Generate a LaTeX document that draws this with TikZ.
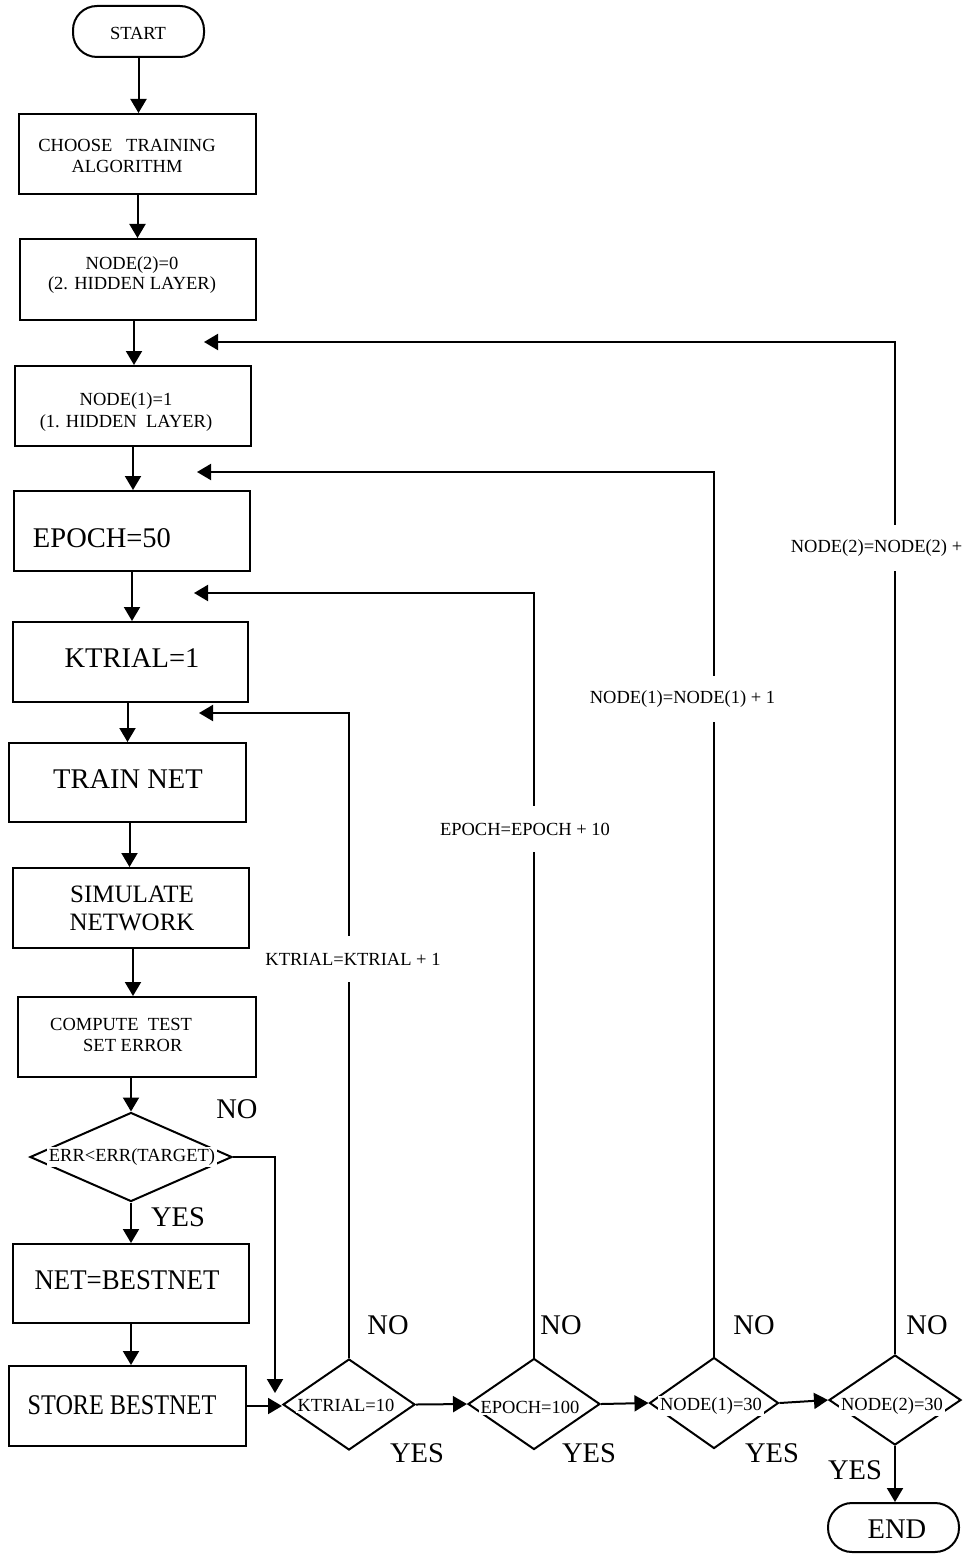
\documentclass[tikz,border=0pt]{standalone}
\usepackage{graphicx}
\usepackage{fontspec}
\setmainfont{Liberation Serif}
\usetikzlibrary{shapes.geometric,arrows.meta,calc}
\begin{document}
\begin{tikzpicture}[x=1pt,y=-1pt,
  box/.style={draw,line width=2pt,rectangle,inner sep=0pt},
  dia/.style={draw,line width=2pt,diamond,inner sep=0pt},
  term/.style={draw,line width=2pt,rectangle,rounded corners=24pt,inner sep=0pt},
  arr/.style={line width=2pt,-{Triangle[length=14pt,width=16pt]}},
  sm/.style={font=\fontsize{18.5}{21.5}\selectfont,inner sep=0pt,align=center},
  lg/.style={font=\fontsize{28.5}{28}\selectfont,inner sep=0pt,align=center},
  dtxt/.style={sm,fill=white,inner sep=2pt},
  lab/.style={sm,fill=white,inner xsep=2pt,minimum height=46pt}]
\useasboundingbox (0,0) rectangle (964,1554);
\fill[white] (0,0) rectangle (964,1554);

% shapes
\node[term,minimum width=131pt,minimum height=51pt] (start) at (138.5,31.5) {};
\node[box,minimum width=237pt,minimum height=80pt] (choose) at (137.5,154) {};
\node[box,minimum width=236pt,minimum height=81pt] (node2) at (138,279.5) {};
\node[box,minimum width=236pt,minimum height=80pt] (node1) at (133,406) {};
\node[box,minimum width=236pt,minimum height=80pt] (epoch) at (132,531) {};
\node[box,minimum width=235pt,minimum height=80pt] (ktrial) at (130.5,662) {};
\node[box,minimum width=237pt,minimum height=79pt] (train) at (127.5,782.5) {};
\node[box,minimum width=236pt,minimum height=80pt] (sim) at (131,908) {};
\node[box,minimum width=238pt,minimum height=80pt] (compute) at (137,1037) {};
\node[dia,minimum width=202pt,minimum height=89pt] (err) at (131,1157) {};
\node[box,minimum width=236pt,minimum height=79pt] (netb) at (131,1283.5) {};
\node[box,minimum width=237pt,minimum height=80pt] (store) at (127.5,1406) {};
\node[dia,minimum width=132pt,minimum height=91pt] (k10) at (349,1404.5) {};
\node[dia,minimum width=132pt,minimum height=91pt] (ep) at (534,1404) {};
\node[dia,minimum width=129pt,minimum height=91pt] (n1) at (714,1403) {};
\node[dia,minimum width=132pt,minimum height=90pt] (n2) at (895,1400) {};
\node[term,minimum width=131pt,minimum height=49pt] (end) at (893.5,1527.5) {};

% return points
\coordinate (kr) at (199,713);
\coordinate (er) at (194,593);
\coordinate (n1r) at (197,472);
\coordinate (n2r) at (204,342);
\coordinate (en) at (275,1393);

% main flow
\draw[arr] (start.south) -- (start.south |- choose.north);
\draw[arr] (choose.south) -- (choose.south |- node2.north);
\draw[arr] ([xshift=-4pt]node2.south) -- ([xshift=-4pt]node2.south |- node1.north);
\draw[arr] (node1.south) -- (node1.south |- epoch.north);
\draw[arr] (epoch.south) -- (epoch.south |- ktrial.north);
\draw[arr] ([xshift=-3pt]ktrial.south) -- ([xshift=-3pt]ktrial.south |- train.north);
\draw[arr] ([xshift=2pt]train.south) -- ([xshift=2pt]train.south |- sim.north);
\draw[arr] ([xshift=2pt]sim.south) -- ([xshift=2pt]sim.south |- compute.north);
\draw[arr] ([xshift=-6pt]compute.south) -- ([xshift=-6pt]compute.south |- err.north);
\draw[arr] (err.south) -- (err.south |- netb.north);
\draw[arr] (netb.south) -- (netb.south |- store.north);
\draw[arr] (err.east) -| (en);
\draw[arr] (store.east) -- (store.east -| k10.west);
\draw[arr] (k10.east) -- (ep.west);
\draw[arr] (ep.east) -- (n1.west);
\draw[arr] (n1.east) -- (n2.west);
\draw[arr] (n2.south) -- (n2.south |- end.north);

% loops
\draw[arr] (k10.north) |- (kr);
\draw[arr] (ep.north) |- (er);
\draw[arr] (n1.north) |- (n1r);
\draw[arr] (n2.north) |- (n2r);

% loop labels
\node[lab] (lk) at (353,959) {KTRIAL=KTRIAL + 1};
\node[lab] (le) at (525,829) {EPOCH=EPOCH + 10};
\node[lab] (ln1) at (682.5,699) {NODE(1)=NODE(1) + 1};
\node[lab] (ln2) at (876.5,548) {NODE(2)=NODE(2) +};

% texts
\node[sm] (tstart) at (138,33.5) {START};
\node[sm] (tchoose) at (127,156) {CHOOSE\ \ \ TRAINING\\ALGORITHM};
\node[sm,font=\fontsize{18.5}{20}\selectfont] (tnode2) at (132,275) {NODE(2)=0\\(2. HIDDEN LAYER)};
\node[sm] (tnode1) at (126,412) {NODE(1)=1\\(1. HIDDEN\ \ LAYER)};
\node[lg] (tepoch) at (102,538) {EPOCH=50};
\node[lg] (tktrial) at (132,658) {KTRIAL=1};
\node[lg] (ttrain) at (128,779) {TRAIN NET};
\node[lg,font=\fontsize{25}{28}\selectfont] (tsim) at (132,908) {SIMULATE\\NETWORK};
\node[sm,align=left,anchor=west] (tcompute) at (50,1035) {COMPUTE\ \ TEST\\\hspace*{33pt}SET ERROR};
\node[dtxt] (terr) at (132,1157) {ERR<ERR(TARGET)};
\node[lg] (tnetb) at (127,1280) {\scalebox{0.94}[1]{NET=BESTNET}};
\node[lg] (tstore) at (122,1405) {\scalebox{0.85}[1]{STORE BESTNET}};
\node[dtxt] (tk10) at (346,1405) {KTRIAL=10};
\node[dtxt] (tep) at (530,1407) {EPOCH=100};
\node[dtxt] (tn1) at (711,1406) {NODE(1)=30};
\node[dtxt] (tn2) at (892,1406) {NODE(2)=30};
\node[lg] (tend) at (897,1529) {END};

% yes / no
\node[lg] (no0) at (237,1109) {NO};
\node[lg] (yes0) at (178,1217) {YES};
\node[lg] (no1) at (388,1325) {NO};
\node[lg] (yes1) at (417,1453) {YES};
\node[lg] (no2) at (561,1325) {NO};
\node[lg] (yes2) at (589,1453) {YES};
\node[lg] (no3) at (754,1325) {NO};
\node[lg] (yes3) at (772,1453) {YES};
\node[lg] (no4) at (927,1325) {NO};
\node[lg] (yes4) at (855,1470) {YES};
\end{tikzpicture}
\end{document}
